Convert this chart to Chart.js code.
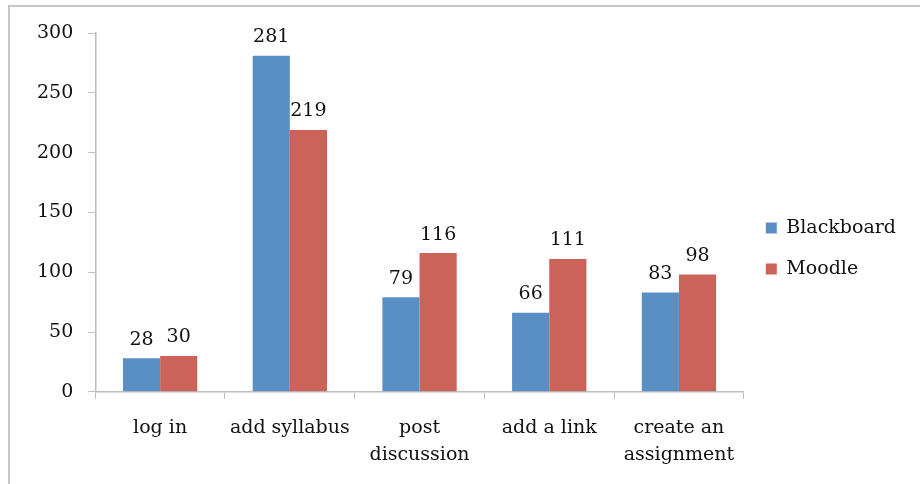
<!DOCTYPE html>
<html>
<head>
<meta charset="utf-8">
<script src="https://cdn.jsdelivr.net/npm/chart.js@4.4.1/dist/chart.umd.min.js"></script>
<style>
    html, body { margin: 0; padding: 0; background: #fff; }
    #wrap { position: relative; width: 920px; height: 484px; overflow: hidden; }
    #frame { position: absolute; left: 8px; top: 5px; width: 940px; height: 500px;
             border-top: 2px solid #c6c6c6; border-left: 2px solid #c6c6c6; }
    #chartBox { position: absolute; left: 0; top: 0; width: 920px; height: 484px; }
</style>
</head>
<body>
<div id="wrap">
    <div id="frame"></div>
    <div id="chartBox"><canvas id="lmsChart"></canvas></div>
</div>
<script>
var Categories = [["log in"], ["add syllabus"], ["post", "discussion"], ["add a link"], ["create an", "assignment"]];
var BlackboardValues = [28, 281, 79, 66, 83];
var MoodleValues = [30, 219, 116, 111, 98];
var YTicks = [0, 50, 100, 150, 200, 250, 300];

var FontFamily = "'DejaVu Serif', serif";

// draws the value above each bar
var valueLabels = {
    id: 'valueLabels',
    afterDatasetsDraw: function (chart) {
        var ctx = chart.ctx;
        ctx.save();
        ctx.fillStyle = '#111';
        ctx.font = '19px ' + FontFamily;
        ctx.textAlign = 'center';
        ctx.textBaseline = 'bottom';
        chart.data.datasets.forEach(function (ds, i) {
            chart.getDatasetMeta(i).data.forEach(function (bar, j) {
                ctx.fillText(ds.data[j], bar.x, bar.y - 9);
            });
        });
        ctx.restore();
    }
};

// nudge the legend a bit higher, like the original
var legendShift = {
    id: 'legendShift',
    afterLayout: function (chart) {
        if (chart.legend) {
            chart.legend.top -= 10;
            chart.legend.bottom -= 10;
        }
    }
};

var ctxChart = document.getElementById("lmsChart");
new Chart(ctxChart, {
    type: 'bar',
    plugins: [valueLabels, legendShift],
    data: {
        labels: Categories,
        datasets: [
            {
                label: "Blackboard",
                backgroundColor: '#5a8fc6',
                data: BlackboardValues
            },
            {
                label: "Moodle",
                backgroundColor: '#cb6359',
                data: MoodleValues
            }
        ]
    },
    options: {
        responsive: true,
        maintainAspectRatio: false,
        animation: false,
        layout: {
            padding: { top: 33, left: 22, right: 14, bottom: 0 }
        },
        categoryPercentage: 0.573,
        barPercentage: 1,
        plugins: {
            legend: {
                position: 'right',
                labels: {
                    color: '#111',
                    boxWidth: 11,
                    boxHeight: 11,
                    padding: 22,
                    font: { family: FontFamily, size: 19 }
                }
            },
            tooltip: { enabled: false },
            title: { display: false }
        },
        scales: {
            x: {
                grid: {
                    drawOnChartArea: false,
                    drawTicks: true,
                    tickLength: 7,
                    color: '#bdbdbd'
                },
                border: { color: '#bdbdbd', width: 1.5 },
                ticks: {
                    color: '#111',
                    padding: 16,
                    maxRotation: 0,
                    autoSkip: false,
                    font: { family: FontFamily, size: 19, lineHeight: 1.4 }
                }
            },
            y: {
                min: 0,
                max: 300,
                afterBuildTicks: function (axis) {
                    axis.ticks = YTicks.map(function (v) { return { value: v }; });
                },
                grid: {
                    drawOnChartArea: false,
                    drawTicks: true,
                    tickLength: 7,
                    color: '#bdbdbd'
                },
                border: { color: '#bdbdbd', width: 1.5 },
                ticks: {
                    color: '#111',
                    padding: 15,
                    font: { family: FontFamily, size: 19 }
                }
            }
        }
    }
});
</script>
</body>
</html>
